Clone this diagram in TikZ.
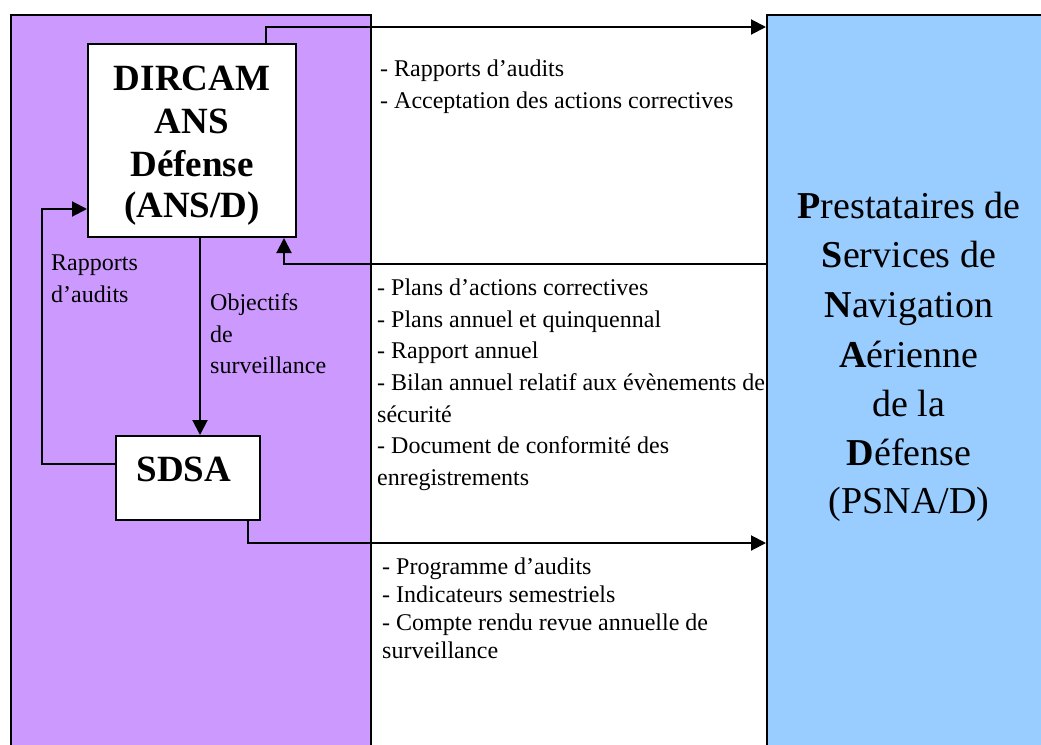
\documentclass[tikz,border=0pt]{standalone}
\usepackage{fontspec}
\setmainfont{Liberation Serif}
\usetikzlibrary{arrows.meta}
\definecolor{purp}{HTML}{CC99FF}
\definecolor{lblue}{HTML}{99CCFF}
\begin{document}
\begin{tikzpicture}[x=1pt,y=-1pt,
  conn/.style={line width=2pt},
  arr/.style={conn,-{Triangle[length=15pt,width=15pt]}},
  zone/.style={draw,line width=2pt,inner sep=0pt,anchor=north west},
  box/.style={draw,line width=2pt,fill=white,inner sep=0pt},
  txt/.style={inner sep=0pt,anchor=base west,font=\fontsize{24}{32}\selectfont},
  big/.style={inner sep=0pt,anchor=base,font=\fontsize{37}{43}\selectfont\bfseries},
  psn/.style={inner sep=0pt,anchor=base,font=\fontsize{38}{49}\selectfont},
  ]
\useasboundingbox (0,0) rectangle (1041,744);
\begin{scope}
\clip (0,0) rectangle (1041,744);
\node[zone,fill=purp,minimum width=360pt,minimum height=760pt] (dgac) at (9.5,14) {};
\node[zone,fill=lblue,minimum width=320pt,minimum height=760pt] (psna) at (766,14) {};
\end{scope}
% boxes
\node[box,minimum width=208pt,minimum height=193pt] (dircam) at (192,140.5) {};
\node[box,minimum width=144pt,minimum height=84pt] (sdsa) at (188,478) {};
% box texts
\node[big] (d1) at (192,90) {DIRCAM};
\node[big] (d2) at (192,133) {ANS};
\node[big] (d3) at (192,176) {Défense};
\node[big] (d4) at (192,217) {(ANS/D)};
\node[big] (s1) at (184,481) {SDSA};
% PSNA text
\node[psn] (p1) at (909,218) {\textbf{P}restataires de};
\node[psn] (p2) at (909,267) {\textbf{S}ervices de};
\node[psn] (p3) at (909,317) {\textbf{N}avigation};
\node[psn] (p4) at (909,367) {\textbf{A}érienne};
\node[psn] (p5) at (909,416) {de la};
\node[psn] (p6) at (909,465) {\textbf{D}éfense};
\node[psn] (p7) at (909,513) {(PSNA/D)};
% connectors
\coordinate (c1) at (42,209);
\draw[arr] ([xshift=74pt]dircam.north) |- (psna.west |- 0,27);
\draw[arr] (psna.west |- 0,264) -| ([xshift=92pt]dircam.south);
\draw[arr] ([xshift=8pt]dircam.south) -- (sdsa.north -| 200,0);
\draw[arr] (sdsa.west |- 0,464) -| (c1) -- (dircam.west |- c1);
\draw[arr] ([xshift=60pt]sdsa.south) |- (psna.west |- 0,543);
% left labels
\node[txt] (l1) at (51,270) {Rapports};
\node[txt] (l2) at (51,302) {d’audits};
\node[txt] (o1) at (210,310) {Objectifs};
\node[txt] (o2) at (210,342) {de};
\node[txt] (o3) at (210,373) {surveillance};
% middle texts
\node[txt] (a1) at (380,76) {- Rapports d’audits};
\node[txt] (a2) at (380,108) {- Acceptation des actions correctives};
\node[txt] (b1) at (377,295) {- Plans d’actions correctives};
\node[txt] (b2) at (377,327) {- Plans annuel et quinquennal};
\node[txt] (b3) at (377,358) {- Rapport annuel};
\node[txt] (b4) at (377,390) {- Bilan annuel relatif aux évènements de};
\node[txt] (b5) at (377,422) {sécurité};
\node[txt] (b6) at (377,453) {- Document de conformité des};
\node[txt] (b7) at (377,485) {enregistrements};
\node[txt] (e1) at (382,574) {- Programme d’audits};
\node[txt] (e2) at (382,602) {- Indicateurs semestriels};
\node[txt] (e3) at (382,630) {- Compte rendu revue annuelle de};
\node[txt] (e4) at (382,658) {surveillance};
\end{tikzpicture}
\end{document}
